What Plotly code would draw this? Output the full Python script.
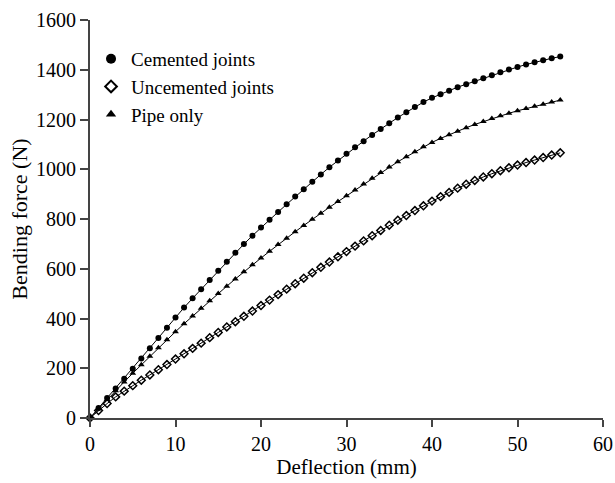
import plotly.graph_objects as go

# Deflection (mm)
deflection = [0, 1, 2, 3, 4, 5, 6, 7, 8, 9, 10, 11, 12, 13, 14, 15, 16, 17, 18, 19,
              20, 21, 22, 23, 24, 25, 26, 27, 28, 29, 30, 31, 32, 33, 34, 35, 36, 37, 38, 39,
              40, 41, 42, 43, 44, 45, 46, 47, 48, 49, 50, 51, 52, 53, 54, 55]

cemented = [0, 40, 80, 119, 158, 198, 239, 280, 322, 363, 404, 444, 481, 518, 555, 592, 628, 664, 699, 733,
            766, 797, 828, 859, 890, 920, 950, 979, 1008, 1035, 1062, 1088, 1113, 1138, 1162, 1185, 1208, 1229, 1250, 1270,
            1287, 1302, 1316, 1330, 1342, 1354, 1366, 1378, 1390, 1401, 1411, 1421, 1430, 1438, 1446, 1453]

uncemented = [0, 30, 58, 85, 108, 130, 152, 173, 194, 215, 237, 258, 280, 301, 323, 344, 366, 387, 409, 430,
              452, 474, 496, 518, 540, 562, 584, 606, 627, 648, 669, 691, 712, 733, 754, 775, 795, 814, 834, 853,
              872, 890, 907, 924, 940, 955, 969, 982, 994, 1006, 1017, 1027, 1037, 1047, 1057, 1066]

pipe_only = [0, 37, 74, 110, 145, 180, 214, 248, 282, 315, 347, 379, 410, 441, 471, 501, 530, 559, 588, 616,
             643, 670, 697, 723, 749, 774, 799, 823, 847, 870, 893, 917, 941, 964, 987, 1009, 1030, 1050, 1070, 1090,
             1108, 1124, 1139, 1153, 1167, 1180, 1192, 1204, 1215, 1225, 1235, 1244, 1253, 1261, 1270, 1278]

series_names = ["Cemented joints", "Uncemented joints", "Pipe only"]
x_ticks = [0, 10, 20, 30, 40, 50, 60]
y_ticks = [0, 200, 400, 600, 800, 1000, 1200, 1400, 1600]

FONT = "Liberation Serif, Times New Roman, serif"

fig = go.Figure()

data = [
    (series_names[0], cemented, dict(symbol="circle", size=6, color="black")),
    (series_names[1], uncemented, dict(symbol="diamond-open", size=6, color="black", line=dict(width=1.5, color="black"))),
    (series_names[2], pipe_only, dict(symbol="triangle-up", size=6, color="black")),
]

for name, ys, mk in data:
    fig.add_trace(go.Scatter(x=deflection, y=ys, mode="lines+markers", name=name,
                             line=dict(color="black", width=1), marker=mk,
                             showlegend=False, cliponaxis=False))

legend_markers = [
    dict(symbol="circle", size=10, color="black"),
    dict(symbol="diamond-open", size=9, color="black", line=dict(width=2, color="black")),
    dict(symbol="triangle-up", size=9, color="black"),
]
for name, mk in zip(series_names, legend_markers):
    fig.add_trace(go.Scatter(x=[None], y=[None], mode="markers", name=name, marker=mk, showlegend=True))

fig.update_layout(
    width=615, height=483,
    margin=dict(l=90, r=12, t=20, b=65),
    paper_bgcolor="white", plot_bgcolor="white",
    font=dict(family=FONT, size=20, color="black"),
    showlegend=True,
    legend=dict(x=0.002, y=0.95, xanchor="left", yanchor="top",
                bgcolor="rgba(0,0,0,0)", font=dict(family=FONT, size=19),
                tracegroupgap=0, itemwidth=30),
    xaxis=dict(range=[0, 60], tickvals=x_ticks, ticktext=[str(v) for v in x_ticks],
               showline=True, linecolor="#444", linewidth=2, ticks="outside", ticklen=7,
               tickwidth=2, tickcolor="#444", showgrid=False, zeroline=False,
               tickfont=dict(size=20), automargin=False,
               title=dict(text="Deflection (mm)", standoff=0, font=dict(size=21))),
    yaxis=dict(range=[0, 1600], tickvals=y_ticks, ticktext=[str(v) for v in y_ticks],
               showline=True, linecolor="#444", linewidth=2, ticks="outside", ticklen=8,
               tickwidth=2, tickcolor="#444", showgrid=False, zeroline=False,
               tickfont=dict(size=20), automargin=False,
               title=dict(text="Bending force (N)", standoff=2, font=dict(size=22))),
)

fig.write_html("out.html", config={"displayModeBar": False},
               post_script="document.body.style.margin='0';document.body.style.overflow='hidden';")
